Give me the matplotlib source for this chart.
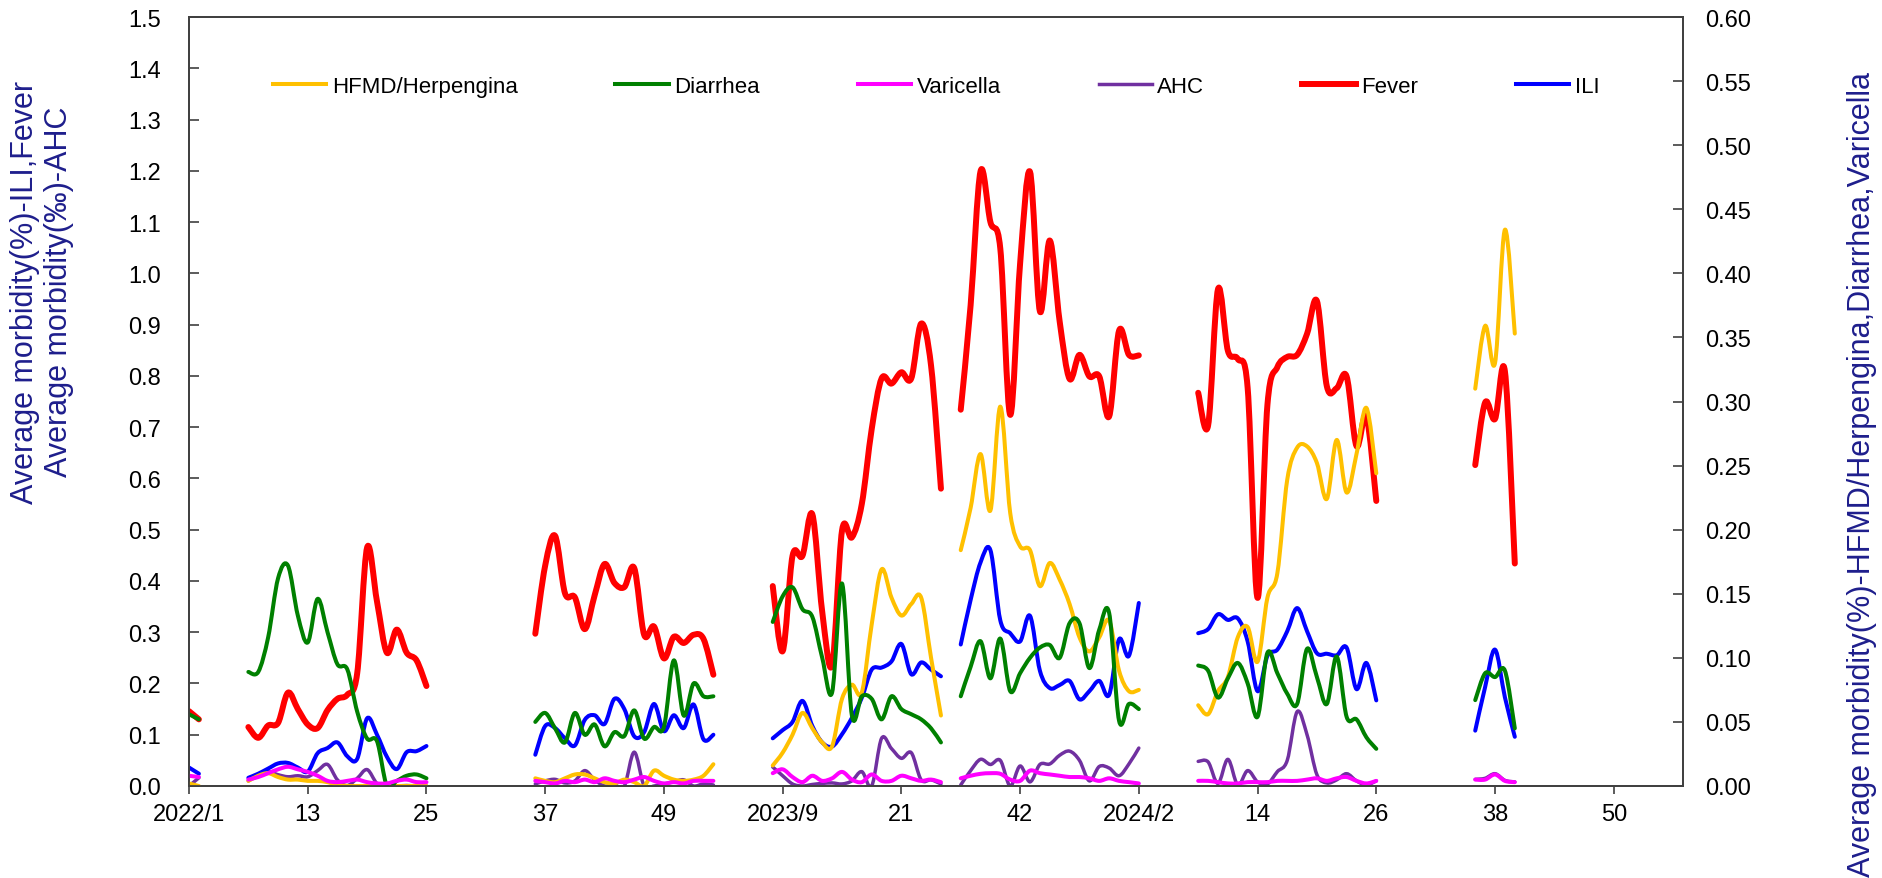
import numpy as np
import matplotlib.pyplot as plt
from matplotlib.path import Path
from matplotlib.patches import PathPatch
from matplotlib.lines import Line2D

plt.rcParams['font.family'] = ['Liberation Sans', 'DejaVu Sans']

# x axis is a category axis (weekly reports, with gaps)
tick_pos = list(range(0, 145, 12))
tick_labels = ['2022/1', '13', '25', '37', '49', '2023/9', '21', '42',
               '2024/2', '14', '26', '38', '50']

# first category index of each reported block
seg_start = [0, 6, 35, 59, 78, 102, 130]

# left axis (%): ILI, Fever ; (per mille): AHC
fever = [
    [0.146, 0.13],
    [0.115, 0.094, 0.118, 0.123, 0.182, 0.15, 0.12, 0.113, 0.148, 0.17, 0.178, 0.22, 0.465, 0.36, 0.26, 0.305, 0.26, 0.245, 0.195],
    [0.297, 0.43, 0.488, 0.376, 0.368, 0.306, 0.372, 0.433, 0.396, 0.388, 0.425, 0.295, 0.311, 0.249, 0.291, 0.279, 0.295, 0.287, 0.217],
    [0.39, 0.263, 0.449, 0.449, 0.53, 0.34, 0.236, 0.498, 0.485, 0.55, 0.696, 0.795, 0.785, 0.807, 0.795, 0.902, 0.82, 0.58],
    [0.734, 0.938, 1.199, 1.10, 1.048, 0.724, 1.019, 1.198, 0.926, 1.064, 0.906, 0.794, 0.841, 0.799, 0.799, 0.721, 0.888, 0.841, 0.84],
    [0.767, 0.703, 0.969, 0.849, 0.833, 0.776, 0.367, 0.744, 0.817, 0.837, 0.841, 0.882, 0.946, 0.78, 0.776, 0.799, 0.663, 0.721, 0.556],
    [0.626, 0.748, 0.716, 0.809, 0.434],
]
ili = [
    [0.036, 0.024],
    [0.016, 0.024, 0.034, 0.044, 0.045, 0.036, 0.028, 0.064, 0.074, 0.085, 0.058, 0.053, 0.132, 0.1, 0.057, 0.033, 0.066, 0.068, 0.078],
    [0.061, 0.117, 0.113, 0.093, 0.079, 0.129, 0.138, 0.121, 0.17, 0.15, 0.097, 0.105, 0.16, 0.107, 0.138, 0.113, 0.159, 0.091, 0.10],
    [0.093, 0.109, 0.125, 0.166, 0.117, 0.085, 0.077, 0.101, 0.133, 0.172, 0.227, 0.231, 0.243, 0.277, 0.218, 0.241, 0.227, 0.214],
    [0.276, 0.363, 0.436, 0.46, 0.323, 0.298, 0.282, 0.332, 0.225, 0.191, 0.197, 0.205, 0.169, 0.185, 0.205, 0.178, 0.286, 0.254, 0.357],
    [0.298, 0.306, 0.335, 0.324, 0.327, 0.282, 0.185, 0.254, 0.266, 0.302, 0.347, 0.302, 0.259, 0.258, 0.255, 0.27, 0.189, 0.24, 0.167],
    [0.108, 0.193, 0.266, 0.173, 0.096],
]
ahc = [
    [0.0, 0.016],
    [0.01, 0.02, 0.028, 0.022, 0.018, 0.02, 0.018, 0.03, 0.042, 0.012, 0.001, 0.015, 0.032, 0.005, 0.0, 0.0, 0.001, 0.0, 0.0],
    [0.004, 0.01, 0.013, 0.006, 0.01, 0.03, 0.012, 0.0, 0.002, 0.0, 0.066, 0.0, 0.0, 0.004, 0.008, 0.012, 0.0, 0.004, 0.002],
    [0.037, 0.02, 0.004, 0.0, 0.003, 0.005, 0.006, 0.004, 0.01, 0.028, 0.0, 0.093, 0.073, 0.054, 0.065, 0.012, 0.012, 0.004],
    [0.002, 0.03, 0.052, 0.042, 0.05, 0.0, 0.039, 0.008, 0.042, 0.043, 0.06, 0.068, 0.05, 0.01, 0.038, 0.035, 0.02, 0.043, 0.074],
    [0.048, 0.047, 0.005, 0.052, 0.002, 0.03, 0.008, 0.004, 0.028, 0.05, 0.145, 0.1, 0.022, 0.006, 0.012, 0.024, 0.01, 0.002, 0.01],
    [0.013, 0.015, 0.024, 0.011, 0.008],
]

# right axis (%): HFMD/Herpengina, Diarrhea, Varicella
hfmd = [
    [0.002, 0.0],
    [0.004, 0.008, 0.01, 0.007, 0.005, 0.005, 0.004, 0.004, 0.003, 0.001, 0.0, 0.0, 0.0, 0.0, 0.0, 0.0, 0.0, 0.0, 0.0],
    [0.006, 0.004, 0.003, 0.006, 0.009, 0.009, 0.006, 0.003, 0.002, 0.005, 0.003, 0.0, 0.012, 0.008, 0.005, 0.004, 0.005, 0.008, 0.017],
    [0.016, 0.026, 0.04, 0.057, 0.045, 0.034, 0.031, 0.068, 0.079, 0.073, 0.126, 0.169, 0.147, 0.133, 0.142, 0.147, 0.1, 0.055],
    [0.184, 0.217, 0.259, 0.215, 0.296, 0.213, 0.187, 0.184, 0.156, 0.174, 0.161, 0.142, 0.116, 0.105, 0.116, 0.129, 0.09, 0.074, 0.075],
    [0.063, 0.056, 0.074, 0.085, 0.116, 0.124, 0.097, 0.147, 0.166, 0.239, 0.264, 0.265, 0.252, 0.224, 0.27, 0.229, 0.259, 0.295, 0.244],
    [0.31, 0.359, 0.33, 0.434, 0.353],
]
diarrhea = [
    [0.056, 0.052],
    [0.089, 0.089, 0.116, 0.162, 0.172, 0.133, 0.112, 0.146, 0.12, 0.095, 0.091, 0.058, 0.037, 0.035, 0.0, 0.004, 0.008, 0.009, 0.006],
    [0.05, 0.057, 0.045, 0.034, 0.057, 0.04, 0.048, 0.031, 0.042, 0.039, 0.059, 0.037, 0.046, 0.046, 0.098, 0.055, 0.08, 0.07, 0.07],
    [0.128, 0.148, 0.155, 0.138, 0.132, 0.1, 0.073, 0.158, 0.055, 0.07, 0.068, 0.052, 0.07, 0.06, 0.056, 0.052, 0.045, 0.034],
    [0.07, 0.093, 0.113, 0.084, 0.115, 0.074, 0.088, 0.1, 0.108, 0.11, 0.1, 0.127, 0.127, 0.092, 0.122, 0.135, 0.051, 0.064, 0.06],
    [0.094, 0.09, 0.069, 0.084, 0.096, 0.08, 0.054, 0.104, 0.088, 0.072, 0.064, 0.107, 0.085, 0.064, 0.101, 0.054, 0.052, 0.038, 0.029],
    [0.067, 0.088, 0.085, 0.09, 0.045],
]
varicella = [
    [0.008, 0.007],
    [0.005, 0.007, 0.01, 0.013, 0.015, 0.013, 0.011, 0.008, 0.004, 0.003, 0.004, 0.005, 0.003, 0.002, 0.002, 0.004, 0.005, 0.003, 0.003],
    [0.004, 0.003, 0.002, 0.004, 0.003, 0.005, 0.003, 0.006, 0.004, 0.003, 0.005, 0.007, 0.004, 0.002, 0.003, 0.002, 0.004, 0.004, 0.004],
    [0.01, 0.013, 0.007, 0.003, 0.008, 0.004, 0.006, 0.011, 0.005, 0.003, 0.009, 0.004, 0.004, 0.008, 0.006, 0.004, 0.005, 0.003],
    [0.006, 0.008, 0.0095, 0.01, 0.0095, 0.005, 0.004, 0.012, 0.01, 0.009, 0.008, 0.007, 0.007, 0.006, 0.004, 0.006, 0.004, 0.003, 0.002],
    [0.004, 0.004, 0.003, 0.002, 0.002, 0.003, 0.003, 0.003, 0.004, 0.004, 0.004, 0.005, 0.006, 0.004, 0.006, 0.007, 0.004, 0.002, 0.004],
    [0.005, 0.005, 0.009, 0.004, 0.003],
]


def smooth_path(x, y):
    # smoothed line like the spreadsheet: cubic bezier through each point
    n = len(x)
    verts = [(x[0], y[0])]
    codes = [Path.MOVETO]
    for i in range(n - 1):
        a = max(i - 1, 0)
        d = min(i + 2, n - 1)
        c1 = (x[i] + (x[i + 1] - x[a]) / 6, y[i] + (y[i + 1] - y[a]) / 6)
        c2 = (x[i + 1] - (x[d] - x[i]) / 6, y[i + 1] - (y[d] - y[i]) / 6)
        verts += [c1, c2, (x[i + 1], y[i + 1])]
        codes += [Path.CURVE4] * 3
    return Path(verts, codes)


def draw_series(ax, blocks, color, lw):
    for start, vals in zip(seg_start, blocks):
        xs = np.arange(start, start + len(vals))
        patch = PathPatch(smooth_path(xs, vals), fill=False, edgecolor=color,
                          lw=lw, capstyle='round', joinstyle='round')
        ax.add_patch(patch)


fig = plt.figure(figsize=(18.82, 8.79), dpi=100)
ax = fig.add_axes([189 / 1882, 1 - 787 / 879, 1494 / 1882, 769 / 879])
ax2 = ax.twinx()

c_hfmd, c_dia, c_var = '#FFC000', '#008000', '#FF00FF'
c_ahc, c_fev, c_ili = '#7030A0', '#FF0000', '#0000FF'
lw_main, lw_fev, lw_ahc = 2.9, 4.3, 2.5

draw_series(ax, ahc, c_ahc, lw_ahc)
draw_series(ax, ili, c_ili, lw_main)
draw_series(ax, fever, c_fev, lw_fev)
draw_series(ax2, hfmd, c_hfmd, lw_main)
draw_series(ax2, diarrhea, c_dia, lw_main)
draw_series(ax2, varicella, c_var, lw_main)

ax.set_xlim(0, 151)
ax.set_ylim(0, 1.5)
ax2.set_ylim(0, 0.6)
ax.set_xticks(tick_pos)
ax.set_xticklabels(tick_labels)
ax.set_yticks(np.arange(0, 1.51, 0.1))
ax.set_yticklabels([f'{v:.1f}' for v in np.arange(0, 1.51, 0.1)])
ax2.set_yticks(np.arange(0, 0.601, 0.05))
ax2.set_yticklabels([f'{v:.2f}' for v in np.arange(0, 0.601, 0.05)])

ax.tick_params(axis='y', direction='in', length=7, width=1.2, pad=20,
               labelsize=17, color='#404040')
ax.tick_params(axis='x', direction='out', length=6, width=1.2, pad=6,
               labelsize=17, color='#404040')
ax2.tick_params(axis='y', direction='in', length=7, width=1.2, pad=16,
                labelsize=17, color='#404040')
for a in (ax, ax2):
    for s in a.spines.values():
        s.set_color('#404040')
        s.set_linewidth(1.3)

handles = [
    Line2D([], [], color=c_hfmd, lw=lw_main),
    Line2D([], [], color=c_dia, lw=lw_main),
    Line2D([], [], color=c_var, lw=lw_main),
    Line2D([], [], color=c_ahc, lw=lw_ahc),
    Line2D([], [], color=c_fev, lw=lw_fev),
    Line2D([], [], color=c_ili, lw=lw_main),
]
names = ['HFMD/Herpengina', 'Diarrhea', 'Varicella', 'AHC', 'Fever', 'ILI']
ax2.legend(handles, names, loc='center', bbox_to_anchor=(0.5, 0.91), ncol=6,
           frameon=False, fontsize=16, handlelength=2.4, handletextpad=0.25,
           columnspacing=4.4)

navy = '#1E1E8C'
fig.text(42 / 1882, 1 - 292 / 879,
         'Average morbidity(%)-ILI,Fever\nAverage morbidity(\u2030)-AHC',
         rotation=90, ha='center', va='center', multialignment='center',
         fontsize=22, color=navy)
fig.text(1862 / 1882, 1 - 475 / 879,
         'Average morbidity(%)-HFMD/Herpengina,Diarrhea,Varicella',
         rotation=90, ha='center', va='center', fontsize=22, color=navy)

fig.savefig('out.png', dpi=100)
